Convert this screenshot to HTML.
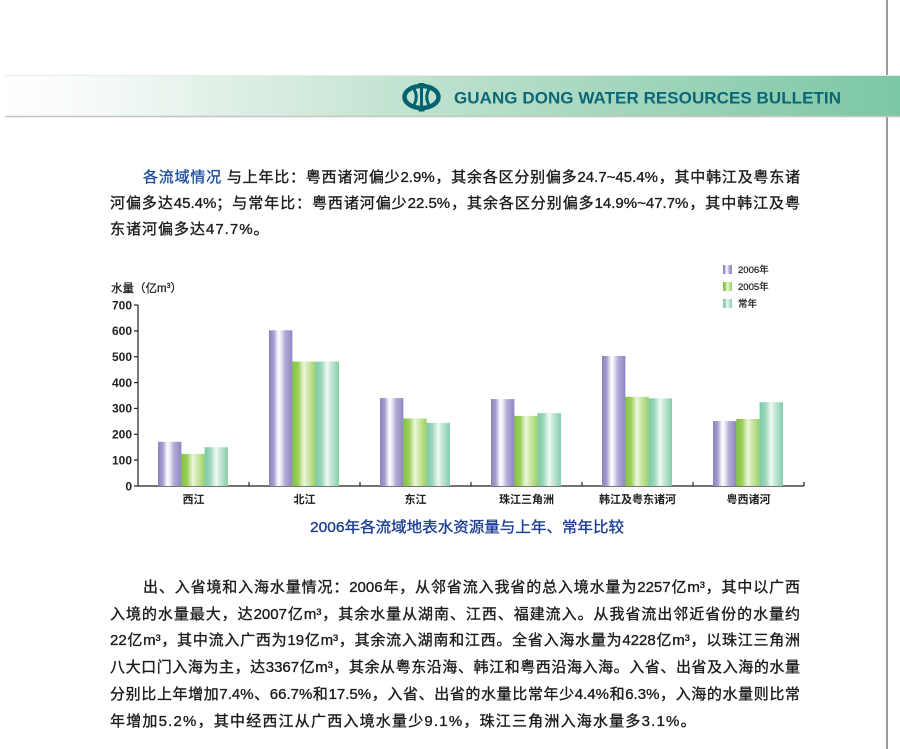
<!DOCTYPE html>
<html>
<head>
<meta charset="utf-8">
<style>
html,body{margin:0;padding:0;background:#fff;}
body{width:900px;height:749px;position:relative;overflow:hidden;font-family:"Liberation Sans","Noto Sans CJK SC",sans-serif;}
.ln{position:absolute;height:20px;line-height:20px;font-size:15px;color:#1e1b1c;white-space:nowrap;-webkit-text-stroke:0.35px #1e1b1c;}
.j{text-align:justify;text-align-last:justify;}
.blue{color:#1d4f9e;-webkit-text-stroke:0.35px #1d4f9e;}
svg{position:absolute;left:0;top:0;}
</style>
</head>
<body>
<svg width="900" height="749" viewBox="0 0 900 749" xmlns="http://www.w3.org/2000/svg">
<defs>
<linearGradient id="ban" x1="0" x2="1" y1="0" y2="0">
<stop offset="0" stop-color="#ffffff"/>
<stop offset="0.1" stop-color="#f6faf7"/>
<stop offset="0.44" stop-color="#c2e3d1"/>
<stop offset="1" stop-color="#7cc7a4"/>
</linearGradient>
<linearGradient id="gp" x1="0" x2="1" y1="0" y2="0">
<stop offset="0" stop-color="#8a82bd"/>
<stop offset="0.2" stop-color="#a49dcf"/>
<stop offset="0.4" stop-color="#ffffff"/>
<stop offset="0.5" stop-color="#eeecf7"/>
<stop offset="0.68" stop-color="#b3acd8"/>
<stop offset="1" stop-color="#8e86c1"/>
</linearGradient>
<linearGradient id="gg" x1="0" x2="1" y1="0" y2="0">
<stop offset="0" stop-color="#7fc23e"/>
<stop offset="0.25" stop-color="#9ccf5c"/>
<stop offset="0.5" stop-color="#eef7df"/>
<stop offset="0.62" stop-color="#d6ecb6"/>
<stop offset="1" stop-color="#9dd065"/>
</linearGradient>
<linearGradient id="gt" x1="0" x2="1" y1="0" y2="0">
<stop offset="0" stop-color="#7bc9a5"/>
<stop offset="0.25" stop-color="#9cd6bb"/>
<stop offset="0.5" stop-color="#f2faf6"/>
<stop offset="0.62" stop-color="#cdeadc"/>
<stop offset="1" stop-color="#86cdac"/>
</linearGradient>
</defs>

<!-- right vertical line -->
<line x1="887" y1="0" x2="887" y2="749" stroke="#333" stroke-width="1"/>

<!-- banner -->
<rect x="5" y="75" width="895" height="41" fill="url(#ban)"/>
<line x1="5" y1="75.5" x2="900" y2="75.5" stroke="#e4efe8" stroke-width="1"/>
<line x1="5" y1="116.5" x2="900" y2="116.5" stroke="#c4c4c4" stroke-width="1.5"/>
<!-- logo -->
<g fill="none" stroke="#00636f">
<ellipse cx="421.5" cy="97" rx="17" ry="11" stroke-width="4.5"/>
<path d="M413 87.5 Q419.5 97 413 106.5" stroke-width="3"/>
<path d="M430 87.5 Q423.5 97 430 106.5" stroke-width="3"/>
<line x1="421.5" y1="83" x2="421.5" y2="111.5" stroke-width="3"/>
<line x1="418.5" y1="84" x2="424.5" y2="84" stroke-width="2"/>
<line x1="418.5" y1="110.5" x2="424.5" y2="110.5" stroke-width="2"/>
</g>
<text x="454" y="103.5" font-family="Liberation Sans, sans-serif" font-size="17" font-weight="bold" fill="#0c6676" textLength="387" lengthAdjust="spacing">GUANG DONG WATER RESOURCES BULLETIN</text>

<!-- chart axes -->
<g stroke="#231f20" stroke-width="1.2">
<line x1="138" y1="305" x2="138" y2="486.5"/>
<line x1="137.5" y1="486" x2="804" y2="486"/>
<line x1="134" y1="305" x2="138" y2="305"/>
<line x1="134" y1="330.9" x2="138" y2="330.9"/>
<line x1="134" y1="356.7" x2="138" y2="356.7"/>
<line x1="134" y1="382.6" x2="138" y2="382.6"/>
<line x1="134" y1="408.4" x2="138" y2="408.4"/>
<line x1="134" y1="434.3" x2="138" y2="434.3"/>
<line x1="134" y1="460.1" x2="138" y2="460.1"/>
<line x1="134" y1="486" x2="138" y2="486"/>
<line x1="249" y1="482" x2="249" y2="486"/>
<line x1="360" y1="482" x2="360" y2="486"/>
<line x1="471" y1="482" x2="471" y2="486"/>
<line x1="582" y1="482" x2="582" y2="486"/>
<line x1="693" y1="482" x2="693" y2="486"/>
<line x1="804" y1="482" x2="804" y2="486"/>
</g>
<g font-family="Liberation Sans, sans-serif" font-size="12" font-weight="bold" fill="#231f20" text-anchor="end">
<text x="132" y="309.3">700</text>
<text x="132" y="335.2">600</text>
<text x="132" y="361">500</text>
<text x="132" y="386.9">400</text>
<text x="132" y="412.7">300</text>
<text x="132" y="438.6">200</text>
<text x="132" y="464.4">100</text>
<text x="132" y="490.3">0</text>
</g>
<text x="111" y="292" font-family="Liberation Sans, Noto Sans CJK SC, sans-serif" font-size="11.5" fill="#231f20" stroke="#231f20" stroke-width="0.3">水量（亿m<tspan font-size="7" dy="-4">3</tspan><tspan dy="4">）</tspan></text>

<!-- bars -->
<g>
<rect x="158" y="441.8" width="23.4" height="44.2" fill="url(#gp)"/>
<rect x="181.3" y="453.9" width="23.4" height="32.1" fill="url(#gg)"/>
<rect x="204.6" y="447.2" width="23.4" height="38.8" fill="url(#gt)"/>
<rect x="269" y="330.3" width="23.4" height="155.7" fill="url(#gp)"/>
<rect x="292.3" y="361.6" width="23.4" height="124.4" fill="url(#gg)"/>
<rect x="315.6" y="361.6" width="23.4" height="124.4" fill="url(#gt)"/>
<rect x="380" y="398.1" width="23.4" height="87.9" fill="url(#gp)"/>
<rect x="403.3" y="418.5" width="23.4" height="67.5" fill="url(#gg)"/>
<rect x="426.6" y="422.9" width="23.4" height="63.1" fill="url(#gt)"/>
<rect x="491" y="399.1" width="23.4" height="86.9" fill="url(#gp)"/>
<rect x="514.3" y="415.9" width="23.4" height="70.1" fill="url(#gg)"/>
<rect x="537.6" y="413.1" width="23.4" height="72.9" fill="url(#gt)"/>
<rect x="602" y="355.9" width="23.4" height="130.1" fill="url(#gp)"/>
<rect x="625.3" y="396.8" width="23.4" height="89.2" fill="url(#gg)"/>
<rect x="648.6" y="398.3" width="23.4" height="87.7" fill="url(#gt)"/>
<rect x="713" y="421.1" width="23.4" height="64.9" fill="url(#gp)"/>
<rect x="736.3" y="419" width="23.4" height="67" fill="url(#gg)"/>
<rect x="759.6" y="402.2" width="23.4" height="83.8" fill="url(#gt)"/>
</g>

<!-- category labels -->
<g font-family="Liberation Sans, Noto Sans CJK SC, sans-serif" font-size="11" font-weight="bold" fill="#231f20" text-anchor="middle">
<text x="193.5" y="503">西江</text>
<text x="304.5" y="503">北江</text>
<text x="415.5" y="503">东江</text>
<text x="526.5" y="503">珠江三角洲</text>
<text x="637.5" y="503">韩江及粤东诸河</text>
<text x="748.5" y="503">粤西诸河</text>
</g>

<!-- legend -->
<rect x="723" y="265" width="9" height="9" fill="url(#gp)"/>
<rect x="723" y="282" width="9" height="9" fill="url(#gg)"/>
<rect x="723" y="299" width="9" height="9" fill="url(#gt)"/>
<g font-family="Liberation Sans, Noto Sans CJK SC, sans-serif" font-size="9.5" fill="#231f20" stroke="#231f20" stroke-width="0.25">
<text x="738" y="273">2006年</text>
<text x="738" y="290">2005年</text>
<text x="738" y="307">常年</text>
</g>

<!-- caption -->
<text x="310" y="532" font-family="Liberation Sans, Noto Sans CJK SC, sans-serif" font-size="15" fill="#1f3f94" stroke="#1f3f94" stroke-width="0.35" textLength="314" lengthAdjust="spacingAndGlyphs">2006年各流域地表水资源量与上年、常年比较</text>
</svg>

<!-- paragraph 1 -->
<div class="ln j" style="left:143px;top:168px;width:657px;"><span class="blue">各流域情况</span> 与上年比：粤西诸河偏少2.9%，其余各区分别偏多24.7~45.4%，其中韩江及粤东诸</div>
<div class="ln j" style="left:110px;top:194px;width:690px;">河偏多达45.4%；与常年比：粤西诸河偏少22.5%，其余各区分别偏多14.9%~47.7%，其中韩江及粤</div>
<div class="ln" style="left:110px;top:220px;letter-spacing:1px;">东诸河偏多达47.7%。</div>

<!-- paragraph 2 -->
<div class="ln j" style="left:143px;top:578px;width:657px;">出、入省境和入海水量情况：2006年，从邻省流入我省的总入境水量为2257亿m³，其中以广西</div>
<div class="ln j" style="left:110px;top:605px;width:690px;">入境的水量最大，达2007亿m³，其余水量从湖南、江西、福建流入。从我省流出邻近省份的水量约</div>
<div class="ln j" style="left:110px;top:631px;width:690px;">22亿m³，其中流入广西为19亿m³，其余流入湖南和江西。全省入海水量为4228亿m³，以珠江三角洲</div>
<div class="ln j" style="left:110px;top:658px;width:690px;">八大口门入海为主，达3367亿m³，其余从粤东沿海、韩江和粤西沿海入海。入省、出省及入海的水量</div>
<div class="ln j" style="left:110px;top:685px;width:690px;">分别比上年增加7.4%、66.7%和17.5%，入省、出省的水量比常年少4.4%和6.3%，入海的水量则比常</div>
<div class="ln" style="left:110px;top:712px;letter-spacing:1.2px;">年增加5.2%，其中经西江从广西入境水量少9.1%，珠江三角洲入海水量多3.1%。</div>
</body>
</html>
